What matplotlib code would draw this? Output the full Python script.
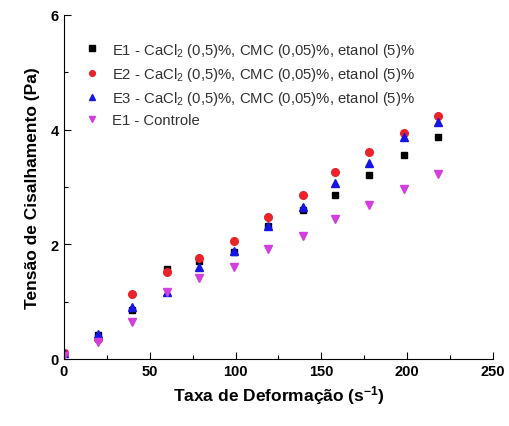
import matplotlib
matplotlib.use("Agg")
import matplotlib.pyplot as plt
from matplotlib.ticker import MultipleLocator

plt.rcParams['font.family'] = ['Liberation Sans', 'DejaVu Sans']
plt.rcParams['mathtext.default'] = 'regular'

taxa = [0, 20, 40, 60, 79, 99, 119, 139, 158, 178, 198, 218]

e1 = [0.10, 0.42, 0.86, 1.56, 1.70, 1.87, 2.31, 2.59, 2.85, 3.21, 3.56, 3.87]
e2 = [0.10, 0.35, 1.13, 1.51, 1.76, 2.05, 2.47, 2.85, 3.26, 3.60, 3.94, 4.24]
e3 = [0.10, 0.44, 0.90, 1.16, 1.60, 1.89, 2.31, 2.65, 3.07, 3.42, 3.87, 4.13]
controle = [0.05, 0.29, 0.65, 1.16, 1.41, 1.60, 1.91, 2.14, 2.44, 2.69, 2.97, 3.23]

rotulos = [
    "E1 - CaCl$_2$ (0,5)%, CMC (0,05)%, etanol (5)%",
    "E2 - CaCl$_2$ (0,5)%, CMC (0,05)%, etanol (5)%",
    "E3 - CaCl$_2$ (0,5)%, CMC (0,05)%, etanol (5)%",
    "E1 - Controle",
]

fig = plt.figure(figsize=(5.1, 4.27), dpi=100)
ax = fig.add_axes([0.125, 0.157, 0.842, 0.806])

ax.plot(taxa, e1, 's', color='black', ms=5, label=rotulos[0])
ax.plot(taxa, e2, 'o', color='#e8232a', ms=5.5, label=rotulos[1])
ax.plot(taxa, e3, '^', color='#1515e6', ms=6, label=rotulos[2])
ax.plot(taxa, controle, 'v', color='#d23fdc', ms=6, label=rotulos[3])

ax.set_xlim(0, 250)
ax.set_ylim(0, 6)
ax.xaxis.set_major_locator(MultipleLocator(50))
ax.xaxis.set_minor_locator(MultipleLocator(25))
ax.yaxis.set_major_locator(MultipleLocator(2))
ax.yaxis.set_minor_locator(MultipleLocator(1))
ax.tick_params(which='both', direction='in', labelsize=10.5, width=0.8)
ax.tick_params(which='major', length=5)
ax.tick_params(which='minor', length=3)
for t in ax.get_xticklabels() + ax.get_yticklabels():
    t.set_fontweight('bold')
ax.spines['top'].set_visible(False)
ax.spines['right'].set_visible(False)

ax.set_xlabel("Taxa de Deformação (s$^{-1}$)", fontsize=12.5, fontweight='bold')
ax.set_ylabel("Tensão de Cisalhamento (Pa)", fontsize=12.5, fontweight='bold',
              labelpad=8)

leg = ax.legend(loc='upper left', bbox_to_anchor=(0.015, 0.955), frameon=False,
                fontsize=10.7, handletextpad=0.6, labelspacing=0.42,
                borderaxespad=0.3, handlelength=1.5, markerscale=0.75)
for t in leg.get_texts():
    t.set_color('#333333')

fig.savefig("out.png", dpi=100)
